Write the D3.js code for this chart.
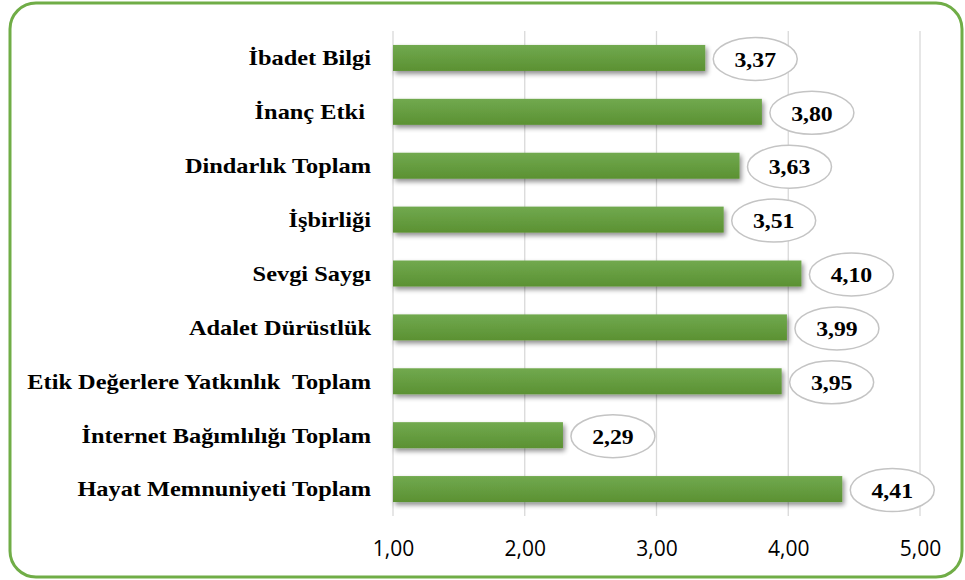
<!DOCTYPE html>
<html><head><meta charset="utf-8">
<script src="https://cdn.jsdelivr.net/npm/d3@7"></script>
<style>body{margin:0;background:#fff}svg{display:block}text{white-space:pre}</style>
</head><body>
<script>
const categories = ["İbadet Bilgi","İnanç Etki ","Dindarlık Toplam","İşbirliği","Sevgi Saygı","Adalet Dürüstlük","Etik Değerlere Yatkınlık  Toplam","İnternet Bağımlılığı Toplam","Hayat Memnuniyeti Toplam"];
const values = [3.37,3.80,3.63,3.51,4.10,3.99,3.95,2.29,4.41];
const tickValues = [1,2,3,4,5];
const tickLabels = ["1,00","2,00","3,00","4,00","5,00"];

const W=965,H=580;
const svg=d3.select("body").append("svg").attr("width",W).attr("height",H);
const defs=svg.append("defs");
const g1=defs.append("linearGradient").attr("id","barg").attr("x1",0).attr("y1",0).attr("x2",0).attr("y2",1);
g1.append("stop").attr("offset","0%").attr("stop-color","#71a94f");
g1.append("stop").attr("offset","100%").attr("stop-color","#5b9132");
const f=defs.append("filter").attr("id","sh").attr("x","-5%").attr("y","-30%").attr("width","115%").attr("height","180%");
f.append("feGaussianBlur").attr("in","SourceAlpha").attr("stdDeviation",2.5);
f.append("feOffset").attr("dx",2).attr("dy",3).attr("result","ob");
f.append("feComponentTransfer").append("feFuncA").attr("type","linear").attr("slope",0.45);
const fm=f.append("feMerge");fm.append("feMergeNode");fm.append("feMergeNode").attr("in","SourceGraphic");

// frame
svg.append("rect").attr("x",10).attr("y",3).attr("width",952).attr("height",574).attr("rx",26)
  .attr("fill","#fff").attr("stroke","#70ad47").attr("stroke-width",3);

const x=d3.scaleLinear().domain([1,5]).range([393,920]);
const y=d3.scaleBand().domain(categories).range([31,516]).paddingInner(0.5).paddingOuter(0.25);

// gridlines
svg.append("g").selectAll("line").data(tickValues).join("line")
  .attr("x1",d=>x(d)).attr("x2",d=>x(d)).attr("y1",31).attr("y2",516)
  .attr("stroke","#d9d9d9").attr("stroke-width",1.3);

// axis labels
const ax=d3.axisBottom(x).tickValues(tickValues).tickFormat((d,i)=>tickLabels[i]).tickSize(0).tickPadding(0);
const axg=svg.append("g").attr("transform","translate(0,556)").call(ax);
axg.select(".domain").remove();
axg.selectAll("text").attr("font-family","'Open Sans', 'Liberation Sans', sans-serif").attr("font-size",21).attr("fill","#000").attr("dy",0).attr("y",0);

// bars
const bh=26;
svg.append("g").selectAll("rect").data(values).join("rect")
  .attr("x",x(1)).attr("y",(d,i)=>y(categories[i])+y.bandwidth()/2-bh/2)
  .attr("width",d=>x(d)-x(1)).attr("height",bh)
  .attr("fill","url(#barg)").attr("filter","url(#sh)");

// category labels
svg.append("g").selectAll("text").data(categories).join("text")
  .attr("transform",d=>`translate(371,${y(d)+y.bandwidth()/2}) scale(1.16,1)`).attr("dy","0.35em")
  .attr("text-anchor","end").attr("font-family","'Liberation Serif', serif").attr("font-weight","bold")
  .attr("font-size",21).attr("fill","#000").text(d=>d);

// value bubbles
const bg=svg.append("g").selectAll("g").data(values).join("g")
  .attr("transform",(d,i)=>`translate(${x(d)+50},${y(categories[i])+y.bandwidth()/2+1})`);
bg.append("ellipse").attr("rx",42).attr("ry",21.5).attr("fill","#fff").attr("stroke","#c4c4c4").attr("stroke-width",1.5);
bg.append("text").attr("text-anchor","middle").attr("dy","0.35em").attr("transform","scale(1.08,1)")
  .attr("font-family","'Liberation Serif', serif").attr("font-weight","bold").attr("font-size",22)
  .text(d=>d.toFixed(2).replace(".",","));
</script>
</body></html>
